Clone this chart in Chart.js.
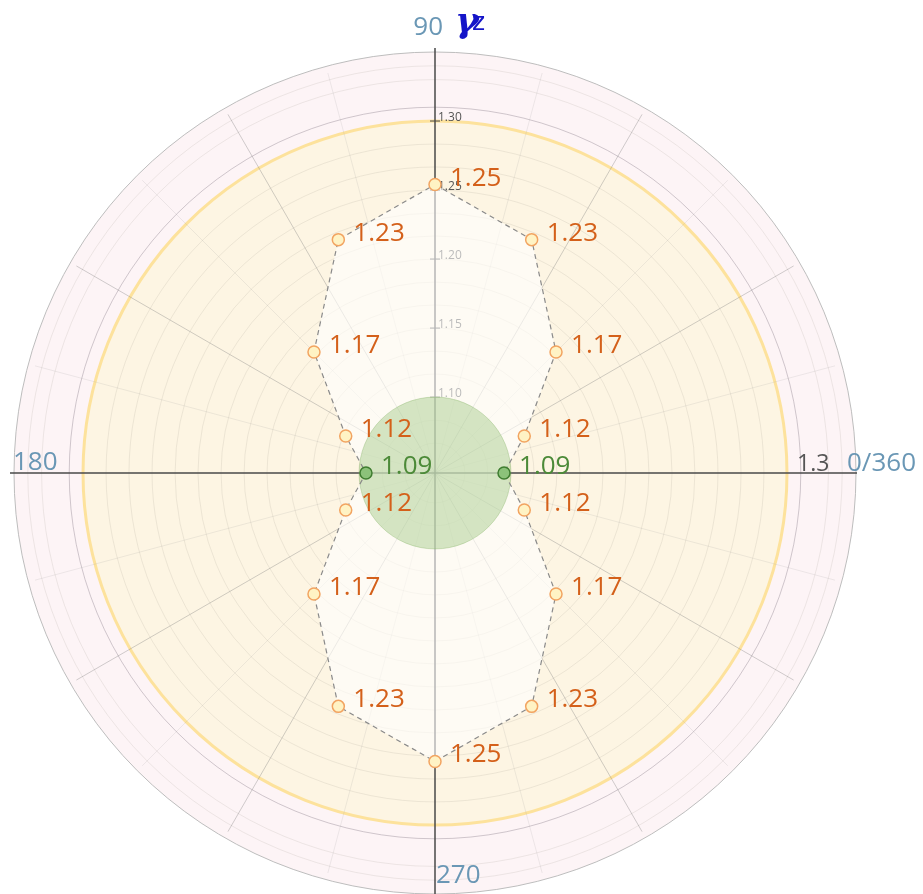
<!DOCTYPE html>
<html>
<head>
<meta charset="utf-8">
<script src="https://cdn.jsdelivr.net/npm/chart.js@4.4.1/dist/chart.umd.min.js"></script>
<style>
  html, body { margin: 0; padding: 0; background: #ffffff; }
  #wrap { width: 923px; height: 894px; }
</style>
</head>
<body>
<div id="wrap"><canvas id="polarChart"></canvas></div>
<script>
// directions, clockwise from the top (90 deg) as the radar scale walks them
const angles = ['90', '67.5', '45', '22.5', '0', '337.5', '315', '292.5',
  '270', '247.5', '225', '202.5', '180', '157.5', '135', '112.5'];
const gammaZ = [1.254, 1.228, 1.169, 1.115, 1.095, 1.115, 1.169, 1.228,
  1.254, 1.228, 1.169, 1.115, 1.095, 1.115, 1.169, 1.228];
const valueLabels = ['1.25', '1.23', '1.17', '1.12', '1.09', '1.12', '1.17', '1.23',
  '1.25', '1.23', '1.17', '1.12', '1.09', '1.12', '1.17', '1.23'];
const tickLabels = [1.10, 1.15, 1.20, 1.25, 1.30];
const gridValues = [1.045, 1.0667, 1.0833, 1.10, 1.1167, 1.1333, 1.15, 1.1667, 1.1833,
  1.20, 1.2167, 1.2333, 1.25, 1.2667, 1.2833, 1.30, 1.31, 1.33, 1.34, 1.35];
const limitValue = 1.30;
const innerValue = 1.10;

const lowIdx = [4, 12];
const pointFill = gammaZ.map((v, i) => lowIdx.includes(i) ? '#8cc27a' : '#fff3c4');
const pointEdge = gammaZ.map((v, i) => lowIdx.includes(i) ? '#3f7d30' : '#f2a461');
const labelColor = gammaZ.map((v, i) => lowIdx.includes(i) ? '#4c8a38' : '#d4601a');

const decor = {
  id: 'decor',
  beforeDraw(chart) {
    const s = chart.scales.r, ctx = chart.ctx;
    const cx = s.xCenter, cy = s.yCenter;
    ctx.save();
    ctx.beginPath();
    ctx.arc(cx, cy, s.drawingArea, 0, Math.PI * 2);
    ctx.fillStyle = '#fdf4f6';
    ctx.fill();
    ctx.beginPath();
    ctx.arc(cx, cy, s.getDistanceFromCenterForValue(limitValue), 0, Math.PI * 2);
    ctx.fillStyle = '#fdf5e3';
    ctx.fill();
    ctx.restore();
  },
  beforeDatasetsDraw(chart) {
    const s = chart.scales.r, ctx = chart.ctx;
    const cx = s.xCenter, cy = s.yCenter, R = s.drawingArea;
    ctx.save();
    // spokes
    const spokeLen = s.getDistanceFromCenterForValue(1.345);
    for (let a = 15; a < 360; a += 15) {
      if (a % 90 === 0) continue;
      const t = a * Math.PI / 180;
      ctx.beginPath();
      ctx.moveTo(cx, cy);
      ctx.lineTo(cx + spokeLen * Math.cos(t), cy - spokeLen * Math.sin(t));
      ctx.strokeStyle = a % 30 === 0 ? 'rgba(120,120,120,0.35)' : 'rgba(150,150,150,0.16)';
      ctx.lineWidth = 1;
      ctx.stroke();
    }
    // main axes
    ctx.strokeStyle = '#4a4a4a';
    ctx.lineWidth = 1.5;
    ctx.beginPath();
    ctx.moveTo(10, cy); ctx.lineTo(cx + R + 1, cy);
    ctx.moveTo(cx, cy - R - 4); ctx.lineTo(cx, chart.height);
    ctx.stroke();
    // radial tick labels on the 90 axis
    ctx.font = '12px "Open Sans"';
    ctx.fillStyle = '#555555';
    ctx.textAlign = 'left';
    ctx.textBaseline = 'alphabetic';
    ctx.lineWidth = 1;
    tickLabels.forEach(v => {
      const y = cy - s.getDistanceFromCenterForValue(v);
      ctx.beginPath();
      ctx.moveTo(cx - 5, y); ctx.lineTo(cx + 5, y);
      ctx.stroke();
      ctx.fillText(v.toFixed(2), cx + 3, y);
    });
    // axis end labels
    ctx.font = '26px "Open Sans"';
    ctx.fillStyle = '#6a97b5';
    ctx.textAlign = 'right';
    ctx.fillText('90', cx + 8, cy - R - 17);
    ctx.textAlign = 'left';
    ctx.fillText('180', cx - R - 1, cy - 3);
    ctx.fillText('0/360', cx + R - 9, cy - 2);
    ctx.fillText('270', cx + 1, cy + R - 11);
    ctx.font = '23px "Open Sans"';
    ctx.fillStyle = '#555555';
    ctx.fillText('1.3', cx + s.getDistanceFromCenterForValue(limitValue) + 10, cy - 2);
    ctx.fillStyle = '#1414c8';
    ctx.font = 'italic bold 36px "DejaVu Serif"';
    ctx.fillText('γ', cx + 20, cy - R - 20);
    ctx.font = '25px "DejaVu Sans"';
    ctx.fillText('z', cx + 37, cy - R - 22);
    ctx.restore();
  },
  beforeDatasetDraw(chart, args) {
    if (args.index !== 0) return;
    const s = chart.scales.r, ctx = chart.ctx;
    ctx.save();
    ctx.beginPath();
    ctx.arc(s.xCenter, s.yCenter, s.getDistanceFromCenterForValue(innerValue), 0, Math.PI * 2);
    ctx.fillStyle = 'rgba(150,195,120,0.4)';
    ctx.fill();
    ctx.strokeStyle = 'rgba(140,185,110,0.35)';
    ctx.lineWidth = 1;
    ctx.stroke();
    ctx.restore();
  },
  afterDatasetsDraw(chart) {
    const ctx = chart.ctx;
    const meta = chart.getDatasetMeta(0);
    ctx.save();
    ctx.font = '26px "Open Sans"';
    ctx.textAlign = 'left';
    ctx.textBaseline = 'alphabetic';
    meta.data.forEach((pt, i) => {
      ctx.fillStyle = labelColor[i];
      ctx.fillText(valueLabels[i], pt.x + 15, pt.y + 1);
    });
    ctx.restore();
  }
};

const canvas = document.getElementById('polarChart');
new Chart(canvas, {
  type: 'radar',
  data: {
    labels: angles,
    datasets: [{
      data: gammaZ,
      borderColor: '#8a8a8a',
      borderWidth: 1.2,
      borderDash: [5, 4],
      backgroundColor: 'rgba(255,255,255,0.6)',
      fill: 'start',
      tension: 0,
      pointRadius: 6,
      pointHoverRadius: 6,
      pointBorderWidth: 1.5,
      pointBackgroundColor: pointFill,
      pointBorderColor: pointEdge,
    }],
  },
  options: {
    responsive: true,
    maintainAspectRatio: false,
    animation: false,
    layout: { padding: { left: 13, right: 66, top: 52, bottom: -2 } },
    plugins: { legend: { display: false }, tooltip: { enabled: false } },
    scales: {
      r: {
        min: 1.045,
        max: 1.35,
        startAngle: 0,
        afterBuildTicks: (scale) => {
          scale.ticks = gridValues.map((v) => ({ value: v }));
        },
        ticks: { display: false },
        pointLabels: { display: false },
        angleLines: { display: false },
        grid: {
          circular: true,
          color: (c) => {
            const v = c.tick ? c.tick.value : 0;
            if (v === limitValue) return '#fde29c';
            if (v === 1.31) return 'rgba(150,140,150,0.45)';
            if (v === 1.35) return '#bdbdbd';
            return 'rgba(150,140,130,0.16)';
          },
          lineWidth: (c) => (c.tick && c.tick.value === limitValue ? 3 : 1),
        },
      },
    },
  },
  plugins: [decor],
});
</script>
</body>
</html>
